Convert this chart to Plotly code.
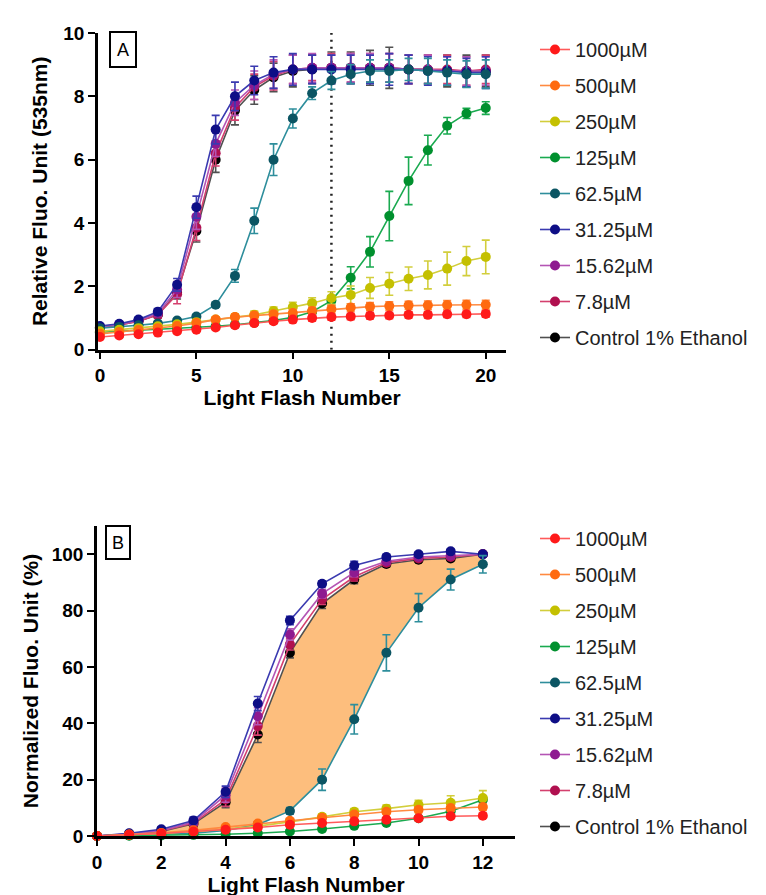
import plotly.graph_objects as go

W, H = 766, 895

# ---------------- data ----------------
labels = ["1000µM", "500µM", "250µM", "125µM", "62.5µM", "31.25µM", "15.62µM", "7.8µM", "Control 1% Ethanol"]
marker_colors = ["#FF1A1A", "#FF6A10", "#C4C000", "#00902E", "#0B5563", "#0E0E86", "#8E1A90", "#B0104F", "#000000"]
line_colors = ["#FF5A5A", "#FF8A40", "#D2CE3C", "#1AAA50", "#2E8E9C", "#3A3AB0", "#B455B4", "#D4406E", "#505050"]

# Panel A: light flash 0..20
xa = list(range(21))
a_1000 = [0.40, 0.45, 0.49, 0.54, 0.58, 0.63, 0.70, 0.77, 0.84, 0.90, 0.95, 1.00, 1.03, 1.05, 1.07, 1.08, 1.10, 1.10, 1.12, 1.12, 1.13]
a_500 = [0.50, 0.56, 0.62, 0.68, 0.75, 0.84, 0.95, 1.03, 1.08, 1.12, 1.16, 1.22, 1.28, 1.33, 1.36, 1.38, 1.40, 1.40, 1.41, 1.42, 1.42]
a_250 = [0.58, 0.63, 0.68, 0.74, 0.80, 0.87, 0.95, 1.03, 1.10, 1.22, 1.35, 1.47, 1.63, 1.73, 1.95, 2.08, 2.24, 2.36, 2.56, 2.80, 2.93]
a_125 = [0.55, 0.58, 0.61, 0.64, 0.67, 0.70, 0.74, 0.79, 0.85, 0.92, 1.02, 1.20, 1.55, 2.27, 3.09, 4.22, 5.33, 6.30, 7.07, 7.46, 7.63]
a_62 = [0.68, 0.72, 0.77, 0.83, 0.92, 1.05, 1.42, 2.33, 4.07, 6.00, 7.30, 8.10, 8.50, 8.70, 8.80, 8.80, 8.85, 8.80, 8.75, 8.70, 8.70]
a_31 = [0.75, 0.82, 0.95, 1.20, 2.05, 4.50, 6.95, 8.00, 8.50, 8.75, 8.85, 8.85, 8.85, 8.85, 8.85, 8.85, 8.85, 8.80, 8.80, 8.75, 8.75]
a_15 = [0.72, 0.80, 0.92, 1.15, 1.90, 4.20, 6.50, 7.80, 8.35, 8.70, 8.85, 8.90, 8.90, 8.90, 8.90, 8.90, 8.85, 8.85, 8.80, 8.80, 8.80]
a_78 = [0.70, 0.78, 0.90, 1.10, 1.75, 3.85, 6.20, 7.65, 8.30, 8.65, 8.85, 8.90, 8.90, 8.90, 8.90, 8.90, 8.85, 8.85, 8.85, 8.80, 8.85]
a_ctl = [0.70, 0.78, 0.90, 1.10, 1.80, 3.75, 6.00, 7.55, 8.20, 8.60, 8.80, 8.85, 8.90, 8.90, 8.90, 8.90, 8.85, 8.85, 8.80, 8.80, 8.80]

ea_1000 = [0.04, 0.04, 0.05, 0.05, 0.05, 0.05, 0.06, 0.06, 0.07, 0.08, 0.09, 0.10, 0.10, 0.10, 0.10, 0.10, 0.10, 0.10, 0.10, 0.10, 0.10]
ea_500 = [0.05, 0.05, 0.05, 0.06, 0.06, 0.07, 0.08, 0.09, 0.10, 0.10, 0.11, 0.12, 0.12, 0.12, 0.13, 0.13, 0.13, 0.14, 0.14, 0.14, 0.14]
ea_250 = [0.05, 0.05, 0.06, 0.06, 0.07, 0.08, 0.09, 0.10, 0.12, 0.13, 0.15, 0.17, 0.20, 0.28, 0.33, 0.36, 0.37, 0.44, 0.52, 0.46, 0.53]
ea_125 = [0.04, 0.04, 0.05, 0.05, 0.05, 0.05, 0.06, 0.06, 0.07, 0.08, 0.09, 0.11, 0.15, 0.35, 0.48, 0.78, 0.75, 0.47, 0.26, 0.16, 0.20]
ea_62 = [0.05, 0.05, 0.05, 0.05, 0.06, 0.07, 0.08, 0.20, 0.40, 0.50, 0.30, 0.20, 0.28, 0.30, 0.35, 0.35, 0.35, 0.40, 0.40, 0.42, 0.45]
ea_31 = [0.06, 0.06, 0.08, 0.10, 0.20, 0.35, 0.45, 0.45, 0.45, 0.50, 0.50, 0.45, 0.45, 0.45, 0.45, 0.50, 0.45, 0.45, 0.45, 0.45, 0.50]
ea_15 = [0.06, 0.06, 0.08, 0.10, 0.25, 0.40, 0.40, 0.40, 0.45, 0.45, 0.45, 0.45, 0.40, 0.45, 0.45, 0.45, 0.45, 0.45, 0.45, 0.45, 0.45]
ea_78 = [0.06, 0.06, 0.08, 0.10, 0.30, 0.40, 0.40, 0.40, 0.40, 0.45, 0.45, 0.40, 0.45, 0.45, 0.45, 0.45, 0.45, 0.45, 0.45, 0.45, 0.45]
ea_ctl = [0.06, 0.06, 0.08, 0.10, 0.20, 0.35, 0.40, 0.45, 0.45, 0.45, 0.50, 0.45, 0.50, 0.50, 0.55, 0.65, 0.45, 0.45, 0.50, 0.50, 0.50]

# Panel B: light flash 0..12 (normalized %)
xb = list(range(13))
b_1000 = [0, 0.4, 0.9, 1.6, 2.2, 3.0, 4.0, 4.6, 5.2, 5.8, 6.3, 7.0, 7.2]
b_500 = [0, 0.5, 1.1, 2.0, 3.2, 4.4, 5.4, 6.5, 7.6, 8.6, 9.3, 9.9, 10.3]
b_250 = [0, 0.4, 0.9, 1.6, 2.4, 3.5, 5.0, 6.8, 8.6, 9.7, 11.1, 11.8, 13.5]
b_125 = [0, 0.1, 0.2, 0.4, 0.6, 1.0, 1.6, 2.5, 3.6, 4.6, 6.3, 8.8, 12.9]
b_62 = [0, 0.3, 0.6, 1.0, 2.0, 4.0, 8.9, 20.0, 41.4, 65.0, 81.0, 91.0, 96.4]
b_31 = [0, 1.0, 2.4, 5.5, 15.7, 47.0, 76.5, 89.5, 96.0, 99.0, 100.0, 101.0, 100.0]
b_15 = [0, 0.8, 2.0, 5.0, 14.5, 42.5, 71.5, 86.0, 93.5, 97.5, 99.0, 99.5, 100.0]
b_78 = [0, 0.7, 1.8, 4.6, 13.0, 39.0, 68.0, 84.0, 92.0, 97.0, 98.5, 99.0, 100.0]
b_ctl = [0, 0.6, 1.6, 4.3, 12.0, 36.0, 65.0, 82.5, 91.0, 96.5, 98.0, 98.5, 100.0]

eb_1000 = [0, 0.2, 0.3, 0.3, 0.4, 0.5, 0.5, 0.6, 0.6, 0.7, 0.8, 0.8, 0.9]
eb_500 = [0, 0.2, 0.3, 0.4, 0.4, 0.5, 0.6, 0.7, 0.8, 0.9, 1.0, 1.1, 1.2]
eb_250 = [0, 0.2, 0.3, 0.4, 0.5, 0.6, 0.8, 1.0, 1.1, 1.3, 1.6, 2.5, 2.6]
eb_125 = [0, 0.1, 0.1, 0.2, 0.2, 0.3, 0.3, 0.4, 0.4, 0.5, 0.6, 0.8, 1.0]
eb_62 = [0, 0.2, 0.3, 0.4, 0.6, 1.0, 1.2, 3.8, 5.2, 6.4, 5.0, 3.7, 3.1]
eb_31 = [0, 0.5, 0.8, 1.2, 2.0, 2.5, 1.5, 1.0, 1.5, 1.0, 0.8, 0.8, 0]
eb_15 = [0, 0.5, 0.8, 1.2, 2.5, 3.0, 2.0, 1.5, 1.5, 1.0, 0.8, 0.8, 0]
eb_78 = [0, 0.5, 0.8, 1.2, 2.5, 3.2, 2.0, 1.8, 1.5, 1.0, 0.8, 0.8, 0]
eb_ctl = [0, 0.5, 0.8, 1.2, 2.0, 2.8, 1.8, 1.8, 1.5, 1.0, 0.8, 0.8, 0]

a_series = [a_1000, a_500, a_250, a_125, a_62, a_31, a_15, a_78, a_ctl]
a_errors = [ea_1000, ea_500, ea_250, ea_125, ea_62, ea_31, ea_15, ea_78, ea_ctl]
b_series = [b_1000, b_500, b_250, b_125, b_62, b_31, b_15, b_78, b_ctl]
b_errors = [eb_1000, eb_500, eb_250, eb_125, eb_62, eb_31, eb_15, eb_78, eb_ctl]

threshold_flash = 12

# ---------------- figure ----------------
def px(x):
    return x / W

def py(y):
    return 1 - y / H

FONT = "Liberation Sans, Arial, sans-serif"
fig = go.Figure()

def add_series(xs, ys, errs, i, xaxis, yaxis, legend, group):
    fig.add_trace(go.Scatter(
        x=xs, y=ys, name=labels[i], mode="lines+markers",
        xaxis=xaxis, yaxis=yaxis, legend=legend, legendgroup=group + str(i), legendrank=100 + i,
        line=dict(color=line_colors[i], width=1.6),
        marker=dict(color=marker_colors[i], size=10, line=dict(width=0)),
        error_y=dict(type="data", array=errs, visible=True, color=line_colors[i], thickness=1.6, width=4),
        cliponaxis=False,
    ))

# Panel A: draw control first so that 1000µM ends on top
for i in reversed(range(9)):
    add_series(xa, a_series[i], a_errors[i], i, "x", "y", "legend", "a")

# Panel B shaded band between 62.5µM and control
fig.add_trace(go.Scatter(x=xb, y=b_62, mode="lines", line=dict(width=0, color="rgba(0,0,0,0)"),
                         xaxis="x2", yaxis="y2", showlegend=False, hoverinfo="skip"))
fig.add_trace(go.Scatter(x=xb, y=b_ctl, mode="lines", line=dict(width=0, color="rgba(0,0,0,0)"),
                         fill="tonexty", fillcolor="#FDBE7D",
                         xaxis="x2", yaxis="y2", showlegend=False, hoverinfo="skip"))

for i in reversed(range(9)):
    add_series(xb, b_series[i], b_errors[i], i, "x2", "y2", "legend2", "b")

axis_common = dict(
    showline=True, linecolor="black", linewidth=2.5, mirror=False,
    ticks="outside", ticklen=7, tickwidth=2.2, tickcolor="black",
    showgrid=False, zeroline=False, automargin=False,
    tickfont=dict(family=FONT, size=19, color="black", weight="bold"),
)
title_font = dict(family=FONT, size=21, color="black", weight="bold")

fig.update_layout(
    width=W, height=H, margin=dict(l=0, r=0, t=0, b=0),
    paper_bgcolor="white", plot_bgcolor="white",
    showlegend=True,
    xaxis=dict(axis_common, domain=[px(90), px(498)], range=[-0.1, 21.05], tickvals=[0, 5, 10, 15, 20],
               anchor="y", title=dict(text="Light Flash Number", font=title_font, standoff=0)),
    yaxis=dict(axis_common, domain=[py(341.7), py(25)], range=[0, 10], tickvals=[0, 2, 4, 6, 8, 10],
               anchor="x", title=dict(text="Relative Fluo. Unit (535nm)", font=title_font, standoff=10)),
    xaxis2=dict(axis_common, domain=[px(89), px(507)], range=[0, 13], tickvals=[0, 2, 4, 6, 8, 10, 12],
                anchor="y2", title=dict(text="Light Flash Number", font=title_font, standoff=6)),
    yaxis2=dict(axis_common, domain=[py(828), py(518)], range=[0, 110], tickvals=[0, 20, 40, 60, 80, 100],
                anchor="x2", title=dict(text="Normalized Fluo. Unit (%)", font=title_font, standoff=8)),
    legend=dict(x=px(527), y=py(22), xanchor="left", yanchor="top", traceorder="grouped",
                tracegroupgap=7, font=dict(family=FONT, size=20, color="#222"), bgcolor="rgba(0,0,0,0)"),
    legend2=dict(x=px(527), y=py(511), xanchor="left", yanchor="top", traceorder="grouped",
                 tracegroupgap=7, font=dict(family=FONT, size=20, color="#222"), bgcolor="rgba(0,0,0,0)"),
    shapes=[
        dict(type="line", xref="x", yref="y", x0=threshold_flash, x1=threshold_flash, y0=0, y1=10,
             line=dict(color="#222", width=2.5, dash="2px,5px"), layer="below"),
        dict(type="rect", xref="paper", yref="paper", x0=px(102), x1=px(128), y0=py(59), y1=py(24),
             line=dict(color="black", width=2), fillcolor="white"),
        dict(type="rect", xref="paper", yref="paper", x0=px(98), x1=px(122), y0=py(551), y1=py(518),
             line=dict(color="black", width=2), fillcolor="white"),
    ],
    annotations=[
        dict(text="A", xref="paper", yref="paper", x=px(115), y=py(41.5), showarrow=False,
             font=dict(family=FONT, size=18, color="black"), xanchor="center", yanchor="middle"),
        dict(text="B", xref="paper", yref="paper", x=px(110), y=py(534.5), showarrow=False,
             font=dict(family=FONT, size=18, color="black"), xanchor="center", yanchor="middle"),
    ],
)

fig.write_html("out.html")
